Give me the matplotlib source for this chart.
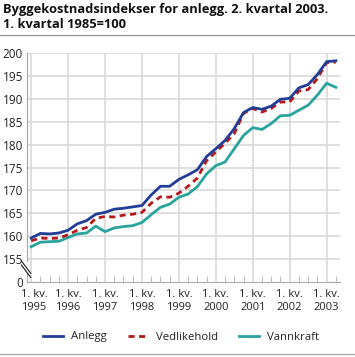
import matplotlib
matplotlib.use("Agg")
import matplotlib.pyplot as plt
from matplotlib.lines import Line2D
from matplotlib.transforms import ScaledTranslation
import numpy as np

# ---- data ----
years = ["1995", "1996", "1997", "1998", "1999", "2000", "2001", "2002", "2003"]
tick_labels = ["1. kv.\n" + y for y in years]
y_ticks = [150, 155, 160, 165, 170, 175, 180, 185, 190, 195, 200]
y_tick_labels = ["0", "155", "160", "165", "170", "175", "180", "185", "190", "195", "200"]

anlegg = [159.6, 160.6, 160.5, 160.7, 161.3, 162.7, 163.4, 164.8,
          165.2, 165.9, 166.1, 166.4, 166.7, 169.0, 170.9, 170.9,
          172.4, 173.4, 174.5, 177.4, 179.1, 180.9, 183.5, 187.0,
          188.1, 187.7, 188.4, 189.9, 190.1, 192.4, 193.1, 195.3,
          198.1, 198.3]
vedlikehold = [159.0, 159.6, 159.5, 159.6, 160.3, 161.3, 161.9, 163.9,
               164.3, 164.2, 164.6, 164.8, 165.2, 167.2, 168.6, 168.5,
               169.4, 170.9, 172.7, 176.5, 178.4, 180.3, 182.4, 186.8,
               187.9, 187.1, 187.9, 189.3, 189.3, 191.7, 192.0, 194.4,
               197.9, 198.0]
vannkraft = [157.7, 158.7, 158.8, 158.9, 159.7, 160.5, 160.7, 162.2,
             161.0, 161.8, 162.1, 162.3, 163.0, 164.7, 166.3, 167.0,
             168.5, 169.2, 170.8, 173.6, 175.4, 176.2, 179.1, 182.0,
             183.7, 183.3, 184.6, 186.3, 186.4, 187.5, 188.6, 190.8,
             193.4, 192.5]
series_names = ["Anlegg", "Vedlikehold", "Vannkraft"]

title = "Byggekostnadsindekser for anlegg. 2. kvartal 2003.\n1. kvartal 1985=100"

# ---- styling ----
font = ["Open Sans", "DejaVu Sans"]
plt.rcParams["font.family"] = font
c_anl = "#213d96"
c_ved = "#b3191c"
c_van = "#2aa39e"
grid_c = "#d9d9d9"
txt_c = "#222222"

fig = plt.figure(figsize=(3.55, 3.57), dpi=100)
ax = fig.add_axes([27/355, 1-282/357, (340-27)/355, (282-53)/357])

x = np.arange(len(anlegg))
ax.plot(x, anlegg, color=c_anl, lw=2.0, solid_joinstyle="round", zorder=5)
ax.plot(x, vedlikehold, color=c_ved, lw=2.0, dashes=(2.2, 1.6), zorder=4)
ax.plot(x, vannkraft, color=c_van, lw=2.0, solid_joinstyle="round", zorder=3)

ax.set_xlim(-0.45, len(anlegg) - 1 + 0.45)
ax.set_ylim(150, 200)

major = np.arange(0, len(anlegg), 4)
ax.set_xticks(major)
ax.set_xticklabels(tick_labels, fontsize=8, color=txt_c, linespacing=1.3)
ax.set_xticks(np.arange(len(anlegg)), minor=True)
ax.tick_params(axis="x", which="both", direction="in", length=4.5, color="#bbbbbb",
               width=0.8, pad=5)
ax.tick_params(axis="x", which="major", length=0)
first = ax.xaxis.get_major_ticks()[0].label1
first.set_transform(first.get_transform() + ScaledTranslation(3/100, 0, fig.dpi_scale_trans))

ax.set_yticks(y_ticks)
ax.set_yticklabels(y_tick_labels, fontsize=8.5, color=txt_c)
ax.tick_params(axis="y", length=0, pad=3)

for v in y_ticks[1:]:
    ax.axhline(v, color=grid_c, lw=1.2, zorder=1)
for m in major:
    ax.axvline(m, color=grid_c, lw=1.2, zorder=1)

for s in ["top", "right"]:
    ax.spines[s].set_visible(False)
ax.spines["bottom"].set_color("#aaaaaa")
ax.spines["left"].set_visible(False)

# left axis line with break
trans = ax.get_yaxis_transform()
xl = 0.0
ax.add_line(Line2D([xl, xl], [154.5, 200], transform=trans, color="#aaaaaa", lw=0.9, clip_on=False))
ax.add_line(Line2D([xl, xl], [150, 152.0], transform=trans, color="#aaaaaa", lw=0.9, clip_on=False))
for off in (0.0, 0.9):
    ax.add_line(Line2D([-0.018, 0.012], [154.6 - off, 151.9 - off], transform=trans,
                       color="#333333", lw=0.9, clip_on=False))

# title and separators
fig.text(3/355, 1-3/357, title, fontsize=9.3, fontweight="bold", color="#111111",
         ha="left", va="top", linespacing=1.25)
fig.add_artist(Line2D([0, 1], [1-35/357, 1-35/357], color="#999999", lw=1.0))
fig.add_artist(Line2D([0, 1], [1-354/357, 1-354/357], color="#aaaaaa", lw=1.0))

# legend
handles = [Line2D([], [], color=c_anl, lw=2.0),
           Line2D([], [], color=c_ved, lw=2.0, dashes=(2.2, 1.6)),
           Line2D([], [], color=c_van, lw=2.0)]
fig.legend(handles, series_names, loc="center", bbox_to_anchor=(0.51, 1-337/357),
           ncol=3, frameon=False, fontsize=8.2, handlelength=1.8, handletextpad=0.7,
           columnspacing=1.8, labelcolor=txt_c)

fig.savefig("out.png", dpi=100)
